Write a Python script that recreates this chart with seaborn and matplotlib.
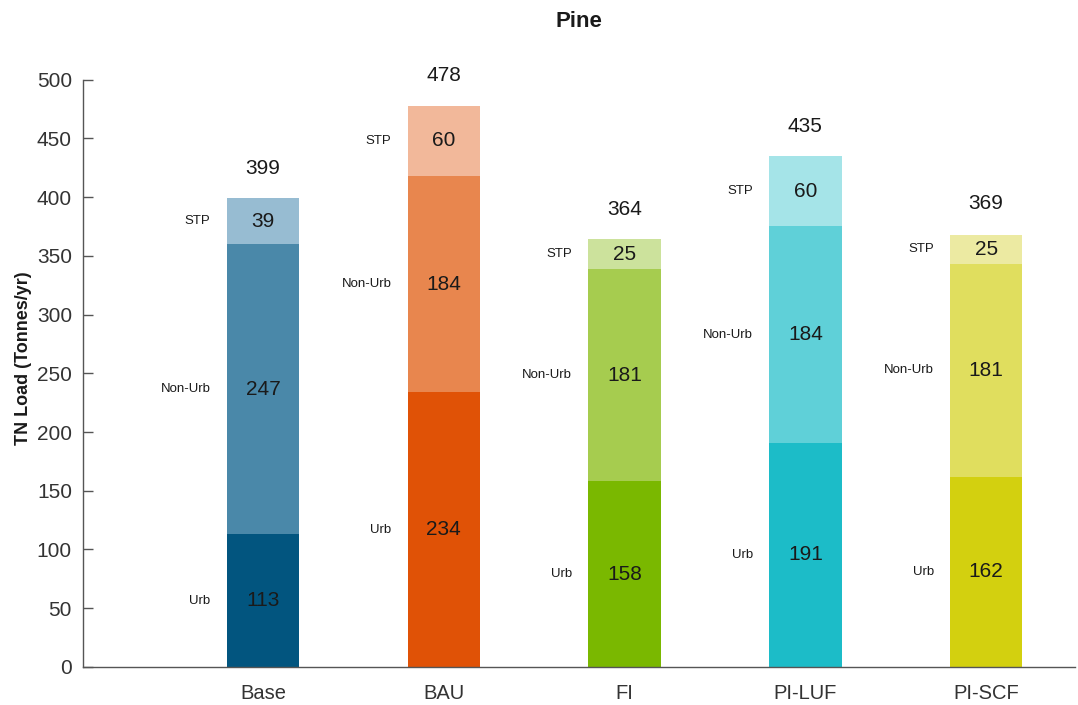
import numpy as np
import pandas as pd
import matplotlib
matplotlib.use("Agg")
import matplotlib.pyplot as plt
import seaborn as sns

scenarios = ["Base", "BAU", "FI", "PI-LUF", "PI-SCF"]
urb = [113, 234, 158, 191, 162]
non_urb = [247, 184, 181, 184, 181]
stp = [39, 60, 25, 60, 25]
totals = [399, 478, 364, 435, 369]
layer_names = ["Urb", "Non-Urb", "STP"]

urb_colors = ["#02557F", "#E05206", "#7AB800", "#1CBCC8", "#D3D00F"]
nonurb_colors = ["#4A88A9", "#E8864E", "#A6CC4F", "#5FD0D8", "#E0DE5E"]
stp_colors = ["#97BCD2", "#F2B89A", "#CCE29C", "#A5E4E8", "#ECEAA2"]

sns.set_theme(style="white")
plt.rcParams["font.family"] = ["Liberation Sans", "DejaVu Sans"]

df = pd.DataFrame({"scenario": scenarios, "urb": urb, "non_urb": non_urb, "stp": stp})
df["lvl2"] = df["urb"] + df["non_urb"]
df["lvl3"] = df["lvl2"] + df["stp"]

fig = plt.figure(figsize=(10.78, 7.05), dpi=100)
ax = fig.add_axes([0.077, 0.054, 0.920, 0.833])

W = 0.4
for col, pal in [("lvl3", stp_colors), ("lvl2", nonurb_colors), ("urb", urb_colors)]:
    sns.barplot(data=df, x="scenario", y=col, hue="scenario", palette=pal,
                order=scenarios, hue_order=scenarios, legend=False, width=W,
                saturation=1, linewidth=0, ax=ax, dodge=False)

for i in range(len(scenarios)):
    segs = [(0, urb[i]), (urb[i], non_urb[i]), (urb[i] + non_urb[i], stp[i])]
    for name, (b, h) in zip(layer_names, segs):
        mid = b + h / 2
        ax.text(i, mid, str(h), ha="center", va="center", fontsize=15, color="#1a1a1a")
        ax.text(i - W / 2 - 0.09, mid, name, ha="right", va="center", fontsize=9.5, color="#1a1a1a")
    ax.annotate(str(totals[i]), (i, totals[i]), xytext=(0, 21.5), textcoords="offset points",
                ha="center", va="center", fontsize=15, color="#1a1a1a")

ax.set_xlim(-0.995, 4.49)
ax.set_ylim(0, 500)
ax.set_yticks(np.arange(0, 501, 50))
ax.set_xlabel("")
ax.set_ylabel("TN Load (Tonnes/yr)", fontsize=13, fontweight="bold", color="#1a1a1a")
ax.yaxis.set_label_coords(-0.051, 0.526)
ax.set_title("Pine", fontsize=16, fontweight="bold", color="#1a1a1a", pad=38)

for s in ["top", "right"]:
    ax.spines[s].set_visible(False)
for s in ["left", "bottom"]:
    ax.spines[s].set_color("#555555")
    ax.spines[s].set_linewidth(1.0)
ax.tick_params(axis="y", direction="in", length=7, width=1, color="#555555",
               labelsize=15, labelcolor="#333333", pad=8, left=True)
ax.tick_params(axis="x", length=0, labelsize=14.5, labelcolor="#333333", pad=12)

fig.savefig("out.png", dpi=100)
